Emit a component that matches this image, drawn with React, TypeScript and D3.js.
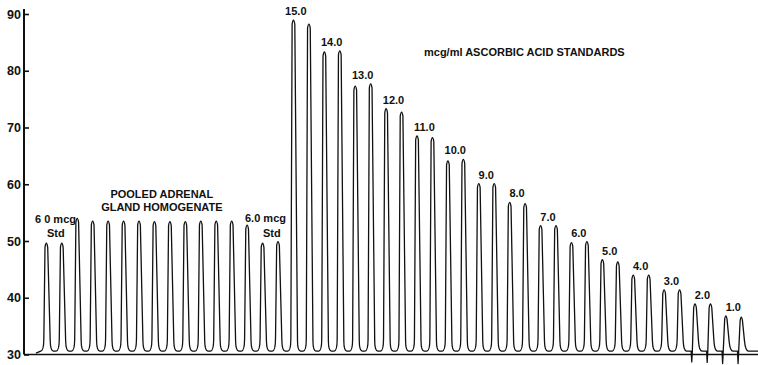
import React, { useRef, useEffect } from 'react';
import * as d3 from 'd3';

// peak heights (scale units), left to right
const firstGroup = [49.6, 49.6, 54.0, 53.5, 53.5, 53.5, 53.5, 53.4, 53.4, 53.4, 53.5, 53.5, 53.5, 52.8, 49.6, 49.9];
const standardLabels = ['15.0', '14.0', '13.0', '12.0', '11.0', '10.0', '9.0', '8.0', '7.0', '6.0', '5.0', '4.0', '3.0', '2.0', '1.0'];
const standardPeaks = [
  88.9, 88.2, 83.3, 83.5, 77.3, 77.7, 73.3, 72.7, 68.5, 68.2,
  64.1, 64.4, 60.1, 60.1, 56.8, 56.6, 52.7, 52.7, 49.7, 49.9,
  46.7, 46.3, 44.0, 44.0, 41.4, 41.4, 38.9, 38.9, 36.8, 36.6,
];
const peaks = [...firstGroup, ...standardPeaks];
const yTicks = [30, 40, 50, 60, 70, 80, 90];
const dipPeaks = [42, 43, 44, 45];
const dipLows = [28.7, 28.6, 28.4, 28.4];
const baseline = 30.6;

export default function App() {
  const ref = useRef(null);

  useEffect(() => {
    const svg = d3.select(ref.current);
    svg.selectAll('*').remove();

    const width = 758;
    const font = '"Liberation Sans", Arial, sans-serif';

    const x = d3.scaleLinear().domain([0, peaks.length - 1]).range([46, 741]);
    const y = d3.scaleLinear().domain([30, 90]).range([354.5, 14]);

    // axes
    svg.append('line')
      .attr('x1', 24).attr('x2', width)
      .attr('y1', y(30)).attr('y2', y(30))
      .attr('stroke', '#111').attr('stroke-width', 1.6);

    svg.append('line')
      .attr('x1', 24).attr('x2', 24)
      .attr('y1', 9).attr('y2', y(30))
      .attr('stroke', '#111').attr('stroke-width', 2);

    const yAxis = d3.axisLeft(y).tickValues(yTicks).tickSizeInner(-5).tickSizeOuter(0).tickPadding(3);
    const gy = svg.append('g').attr('transform', 'translate(24,0)').call(yAxis);
    gy.select('.domain').remove();
    gy.selectAll('line').attr('stroke', '#111').attr('stroke-width', 1.6);
    gy.selectAll('text')
      .attr('font-family', font).attr('font-weight', 'bold').attr('font-size', 12.5)
      .attr('fill', '#111');

    // recorder trace: narrow peaks, rounded caps and feet
    const p = d3.path();
    const yb = y(baseline);
    p.moveTo(x(-0.65), y(30.25));
    peaks.forEach((h, i) => {
      const xt = x(i), yt = y(h);
      const xl = x(i - 0.15), xr = x(i + 0.29);
      const hp = yb - yt;
      const s = Math.min(1, hp / 40);
      const dip = dipPeaks.indexOf(i);
      // cap end points
      const capL = [xt - 1.0 * s, yt + 4 * s];
      const capR = [xt + 1.7 * s, yt + 4 * s];
      // left side
      let lx = capL[0] - xl, ly = capL[1] - yb, ln = Math.hypot(lx, ly);
      lx /= ln; ly /= ln;
      if (dip >= 0) {
        p.lineTo(xl - 1.2, yb);
        p.lineTo(xl - 0.6, y(dipLows[dip]));
        p.lineTo(xl, yb);
      } else {
        const ry = Math.min(12, hp * 0.3);
        p.lineTo(xl - 3, yb);
        p.quadraticCurveTo(xl, yb, xl + lx * ry, yb + ly * ry);
      }
      p.lineTo(capL[0], capL[1]);
      p.quadraticCurveTo(xt + 0.35 * s, yt - 4 * s, capR[0], capR[1]);
      // right side
      let rx = xr - capR[0], rv = yb - capR[1], rn = Math.hypot(rx, rv);
      rx /= rn; rv /= rn;
      const r2 = Math.min(10, hp * 0.3);
      p.lineTo(xr - rx * r2, yb - rv * r2);
      p.quadraticCurveTo(xr, yb, xr + 3, yb);
    });
    p.lineTo(width, yb);

    svg.append('path')
      .attr('d', p.toString())
      .attr('fill', 'none')
      .attr('stroke', '#111')
      .attr('stroke-width', 1.3)
      .attr('stroke-linejoin', 'round');

    const txt = (s, px, py, size = 11, anchor = 'start') =>
      svg.append('text')
        .attr('x', px).attr('y', py)
        .attr('text-anchor', anchor)
        .attr('font-family', font).attr('font-weight', 'bold')
        .attr('font-size', size).attr('fill', '#111')
        .text(s);

    // standard pair labels
    standardLabels.forEach((lab, k) => {
      const i = firstGroup.length + 2 * k;
      const top = Math.max(peaks[i], peaks[i + 1]);
      const cx = (x(i) + x(i + 1)) / 2 + (k === 0 ? -5 : 0);
      txt(lab, cx, y(top) - 5, 11, 'middle');
    });

    txt('6 0 mcg', 35, 223, 11);
    txt('Std', 47, 237, 11);
    txt('POOLED ADRENAL', x(7.5), 198, 11, 'middle');
    txt('GLAND HOMOGENATE', x(7.5), 211, 11, 'middle');
    txt('6.0 mcg', 245, 222, 11);
    txt('Std', 263, 237, 11);
    txt('mcg/ml ASCORBIC ACID STANDARDS', 424, 56, 11);
  }, []);

  return (
    <svg ref={ref} width={758} height={365}
      style={{ position: 'absolute', left: 0, top: 0, background: '#fff' }} />
  );
}
